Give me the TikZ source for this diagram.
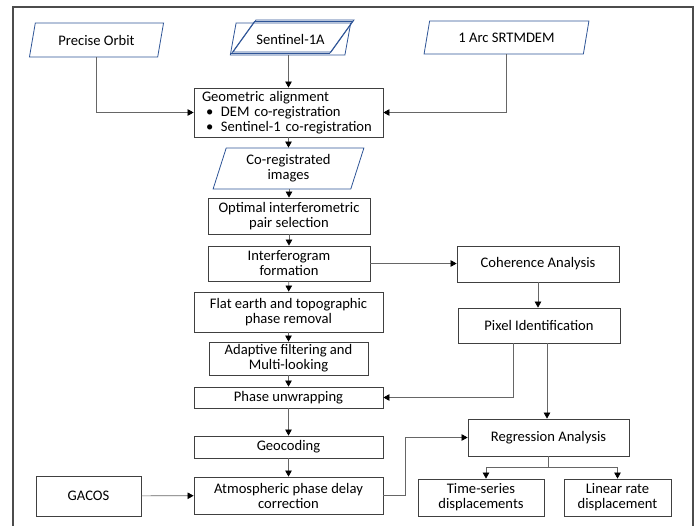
\documentclass[tikz,border=0pt]{standalone}
\usepackage{fontspec}
\setmainfont{Carlito}
\usetikzlibrary{shapes.geometric,arrows.meta}
\definecolor{dataBlue}{RGB}{47,85,151}
\tikzset{
  procbox/.style={draw=black!75, line width=0.8pt, fill=white, align=center, inner sep=2pt},
  databox/.style={trapezium, trapezium left angle=73, trapezium right angle=107,
    trapezium stretches=true, draw=dataBlue, line width=0.8pt, fill=white, align=center, inner sep=1pt},
  link/.style={draw=black!60, line width=0.7pt, -{Triangle[width=6.5pt,length=6pt,color=black]}},
  plain/.style={draw=black!60, line width=0.7pt}
}
\begin{document}
\begin{tikzpicture}[x=1pt,y=-1pt,font=\fontsize{14.6}{15}\selectfont]
  \useasboundingbox (0,0) rectangle (699,525);
  \draw[black!70, line width=1.6pt] (13,7) rectangle (693,560);
  % inputs
  \node[databox, minimum width=135, minimum height=34] (precise) at (96.5,40) {Precise Orbit};
  \node[databox, fill=none, minimum width=121, minimum height=32] (s1back2) at (293.5,36) {};
  \node[databox, fill=none, minimum width=121, minimum height=32] (s1back1) at (292,37.5) {};
  \node[databox, fill=none, minimum width=121, minimum height=32] (sentinel) at (290.5,39) {Sentinel-1A};
  \node[databox, minimum width=165, minimum height=33] (srtm) at (506.5,37.5) {1 Arc SRTMDEM};
  % main chain
  \node[procbox, minimum width=189, minimum height=49, text width=173, align=left, inner xsep=8pt] (geo) at (288.5,112.5)
    {Geometric alignment\\\hspace*{4pt}\makebox[15pt][l]{\textbullet}DEM co-registration\\\hspace*{4pt}\makebox[15pt][l]{\textbullet}Sentinel-1 co-registration};
  \node[databox, minimum width=151, minimum height=41] (coreg) at (288.5,168.5) {Co-registrated\\images};
  \node[procbox, minimum width=162, minimum height=36] (pairsel) at (289,216) {Optimal interferometric\\pair selection};
  \node[procbox, minimum width=162, minimum height=35] (ifgform) at (289,263.5) {Interferogram\\formation};
  \node[procbox, minimum width=189, minimum height=40] (flat) at (288.5,312) {Flat earth and topographic\\phase removal};
  \node[procbox, minimum width=159, minimum height=33] (adapt) at (288.5,358.5) {Adaptive filtering and\\Multi-looking};
  \node[procbox, minimum width=189, minimum height=21, inner ysep=0pt] (unwrap) at (288.5,397.5) {Phase unwrapping};
  \node[procbox, minimum width=189, minimum height=22, inner ysep=0pt] (geocod) at (288.5,447) {Geocoding};
  \node[procbox, minimum width=189, minimum height=37] (atmos) at (288.5,495.5) {Atmospheric phase delay\\correction};
  \node[procbox, minimum width=105, minimum height=40] (gacos) at (88.5,496) {GACOS};
  % right branch
  \node[procbox, minimum width=162, minimum height=36] (coher) at (538,264) {Coherence Analysis};
  \node[procbox, minimum width=162, minimum height=35] (pixel) at (539,325.5) {Pixel Identification};
  \node[procbox, minimum width=161, minimum height=37] (regress) at (548.5,437.5) {Regression Analysis};
  \node[procbox, minimum width=126, minimum height=37] (tseries) at (481,497.5) {Time-series\\displacements};
  \node[procbox, minimum width=107, minimum height=37] (linrate) at (617.5,497.5) {Linear rate\\displacement};
  % connectors
  \draw[link] (precise.center |- precise.south) |- (geo.west);
  \draw[link] (srtm.south) |- (geo.east);
  \draw[link] (geo.north |- sentinel.south) -- (geo.north);
  \draw[link] (geo.south) -- (coreg.north -| geo.south);
  \draw[link] (coreg.south -| pairsel.north) -- (pairsel.north);
  \draw[link] (pairsel) -- (ifgform);
  \draw[link] (ifgform) -- (flat);
  \draw[link] (flat) -- (adapt);
  \draw[link] (adapt) -- (unwrap);
  \draw[link] (unwrap) -- (geocod);
  \draw[link] (geocod) -- (atmos);
  \draw[link] (gacos) -- (atmos);
  \draw[link] (ifgform.east) -- (ifgform.east -| coher.west);
  \draw[link] (coher.south) -- (coher.south |- pixel.north);
  \draw[link] ([xshift=-26pt]pixel.south) |- (unwrap.east);
  \draw[link] ([xshift=8pt]pixel.south) -- ([xshift=8pt]pixel.south |- regress.north);
  \draw[link] (atmos.east) -- ++(22,0) |- (regress.west);
  \draw[plain] (regress.south) -- ++(0,11) coordinate (fork);
  \draw[link] (fork) -| ([xshift=5pt]tseries.north);
  \draw[link] (fork) -| (linrate.north);
\end{tikzpicture}
\end{document}
